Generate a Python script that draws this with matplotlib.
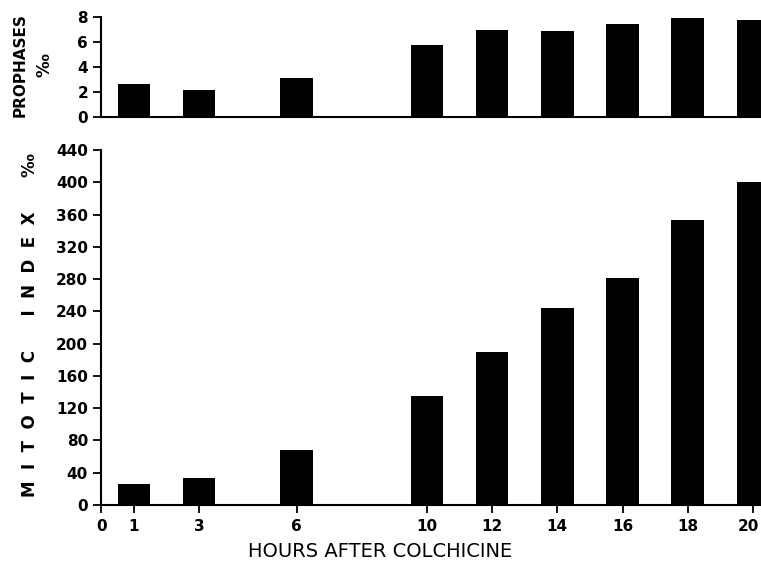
import matplotlib.pyplot as plt
from matplotlib.transforms import ScaledTranslation

hours = [1, 3, 6, 10, 12, 14, 16, 18, 20]
prophases = [2.65, 2.15, 3.1, 5.8, 7.0, 6.9, 7.45, 7.9, 7.75]
mitotic = [26, 33, 68, 135, 190, 244, 282, 354, 400]
xtick_pos = [0, 1, 3, 6, 10, 12, 14, 16, 18, 20]
xtick_lab = ['0', '1', '3', '6', '10', '12', '14', '16', '18', '20']

plt.rcParams['font.family'] = 'DejaVu Sans'

fig = plt.figure(figsize=(7.61, 5.69), dpi=100)
ax1 = fig.add_axes([0.133, 0.794, 0.867, 0.176])
ax2 = fig.add_axes([0.133, 0.1125, 0.867, 0.6235])

for ax in (ax1, ax2):
    ax.spines['top'].set_visible(False)
    ax.spines['right'].set_visible(False)
    ax.spines['left'].set_linewidth(1.5)
    ax.spines['bottom'].set_linewidth(1.5)
    ax.set_xlim(0, 20.25)
    ax.tick_params(axis='y', direction='out', length=6, width=1.3,
                   labelsize=11)

# top panel
ax1.bar(hours, prophases, width=1.0, color='black')
ax1.set_ylim(0, 8)
ax1.set_yticks([0, 2, 4, 6, 8])
ax1.set_xticks([])
for lab in ax1.get_yticklabels():
    lab.set_fontweight('bold')
fig.text(0.027, 0.885, 'PROPHASES', rotation=90, ha='center', va='center',
         fontsize=11, fontweight='bold')
fig.text(0.058, 0.885, '‰', rotation=90, ha='center', va='center',
         fontsize=12, fontweight='bold')

# bottom panel
ax2.bar(hours, mitotic, width=1.0, color='black')
ax2.set_ylim(0, 440)
ax2.set_yticks(range(0, 441, 40))
ax2.set_xticks(xtick_pos)
ax2.set_xticklabels(xtick_lab)
ax2.tick_params(axis='x', direction='out', length=6, width=1.3,
                labelsize=11, pad=4)
for lab in ax2.get_yticklabels() + ax2.get_xticklabels():
    lab.set_fontweight('bold')
last = ax2.get_xticklabels()[-1]
last.set_transform(last.get_transform() + ScaledTranslation(-3 / 72, 0, fig.dpi_scale_trans))

fig.text(0.04, 0.429, 'M  I  T  O  T  I  C      I  N  D  E  X      ‰', rotation=90,
         ha='center', va='center', fontsize=12, fontweight='bold')
fig.text(0.5, 0.03, 'HOURS AFTER COLCHICINE', ha='center', va='center',
         fontsize=14)

fig.savefig('out.png', dpi=100)
